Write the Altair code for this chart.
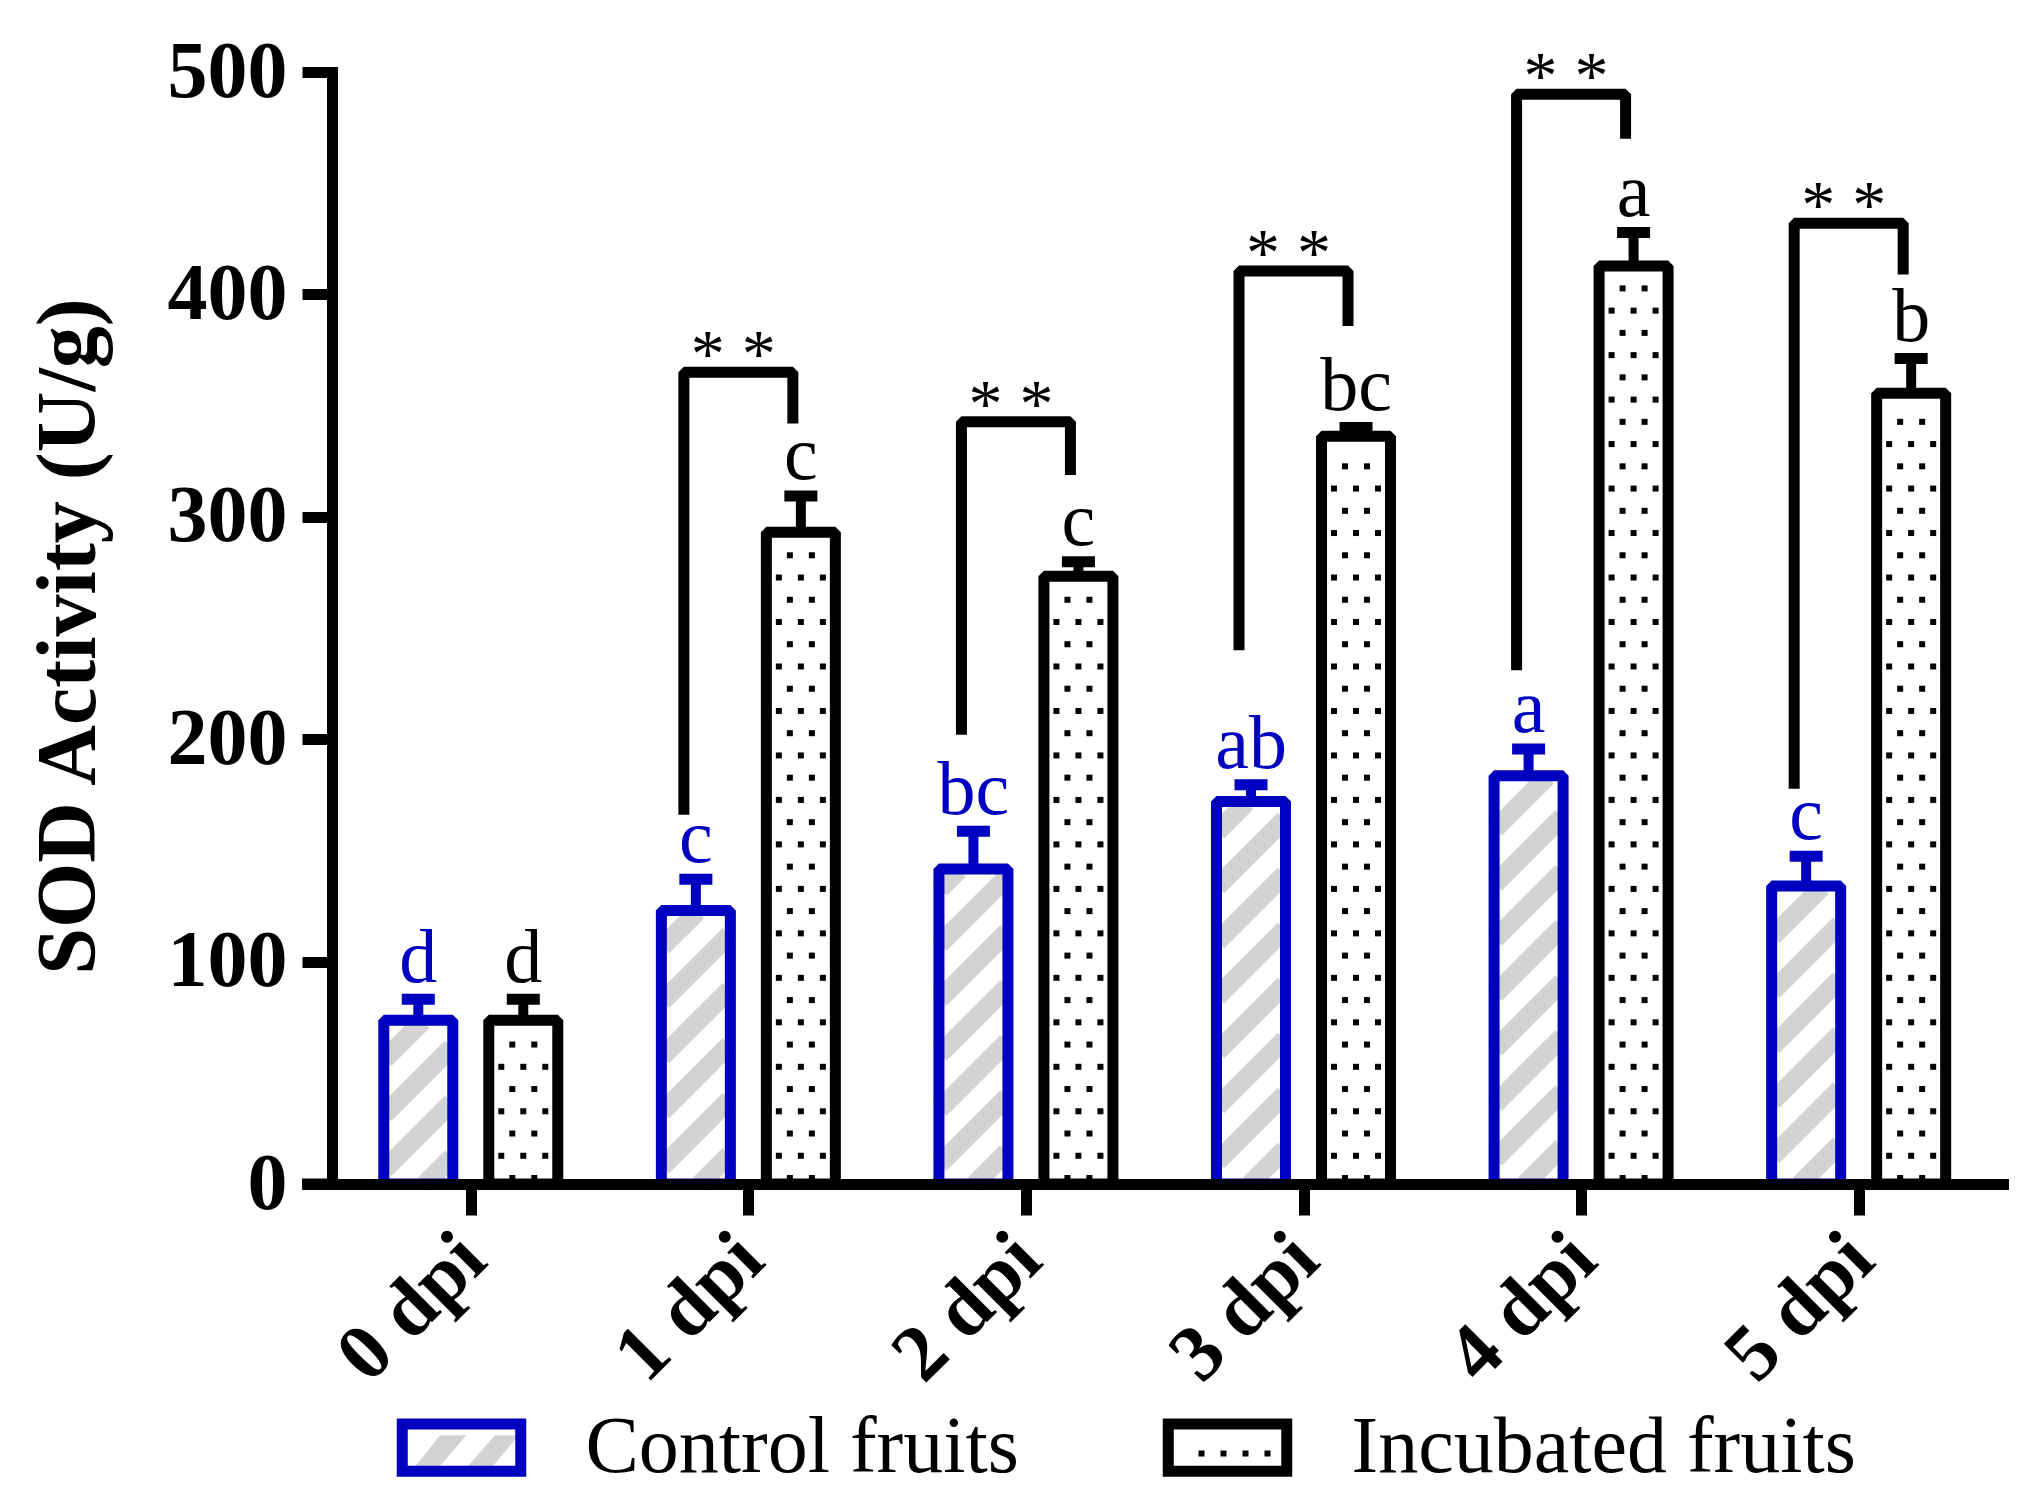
import altair as alt
import pandas as pd

# values
days = ["0 dpi", "1 dpi", "2 dpi", "3 dpi", "4 dpi", "5 dpi"]
groups = ["Control fruits", "Incubated fruits"]
control_mean = [73.6, 123.0, 141.6, 172.0, 183.6, 134.0]
control_err = [9.5, 14.0, 17.0, 7.5, 12.0, 13.4]
incub_mean = [73.6, 293.0, 273.3, 336.2, 412.8, 355.5]
incub_err = [9.5, 16.3, 6.5, 4.0, 15.0, 15.7]
control_letters = ["d", "c", "bc", "ab", "a", "c"]
incub_letters = ["d", "c", "c", "bc", "a", "b"]
# significance brackets (0 dpi has none)
sig_text = ["", "* *", "* *", "* *", "* *", "* *"]
bracket_top = [None, 365.0, 342.7, 410.5, 490.0, 432.0]
bracket_left_end = [None, 166.0, 202.0, 240.0, 231.0, 177.7]
bracket_right_end = [None, 342.0, 318.8, 385.8, 470.0, 409.0]

W, H = 1671, 1112
X_MIN, X_MAX = -0.5, 5.52
PX_X = W / (X_MAX - X_MIN)
PX_Y = H / 500
BLUE = "#0000c0"
HATCH = "#d3d3d3"
FONT = "Liberation Serif"

SHIFT = 52.5 / PX_X
HALF = 34.5 / PX_X
CAP = 16.5 / PX_X

xs = alt.Scale(domain=[X_MIN, X_MAX], nice=False, zero=False)
ys = alt.Scale(domain=[0, 500], nice=False)

rows = []
for i, d in enumerate(days):
    for g, m, e, lt, col, sgn in [
        (groups[0], control_mean[i], control_err[i], control_letters[i], BLUE, -1),
        (groups[1], incub_mean[i], incub_err[i], incub_letters[i], "black", 1),
    ]:
        pos = i + sgn * SHIFT
        rows.append(dict(day=d, group=g, col=col, pos=pos,
                         x0=pos - HALF, x1=pos + HALF, c0=pos - CAP, c1=pos + CAP,
                         mean=m, upper=m + e, zero=0, letter=lt))
bars = pd.DataFrame(rows)


def to_px(idx):
    return (idx - X_MIN) * PX_X


def to_idx(px):
    return X_MIN + px / PX_X


# diagonal hatch for control bars, dot pattern for incubated bars
stripes, dots = [], []
for i in range(len(days)):
    cx = to_px(i - SHIFT)
    xl, xr = cx - 34.5 + 1, cx + 34.5 - 1
    ut = control_mean[i] * PX_Y - 1
    k = 38 - 55 * 40
    while k < xr:
        xa, xb = max(xl, k), min(xr, ut + k)
        if xb > xa:
            stripes.append(dict(xa=to_idx(xa), xb=to_idx(xb),
                                ya=(xa - k) / PX_Y, yb=(xb - k) / PX_Y))
        k += 55
    cx = to_px(i + SHIFT)
    ut = incub_mean[i] * PX_Y
    r = 0
    while 6 + 22.24 * r <= ut - 9:
        offs = [-11, 11] if r % 2 == 0 else [-22, 0, 22]
        for o in offs:
            dots.append(dict(x=to_idx(cx + o), y=(6 + 22.24 * r) / PX_Y))
        r += 1
stripes = pd.DataFrame(stripes)
dots = pd.DataFrame(dots)

brk = []
for i, d in enumerate(days):
    if bracket_top[i] is None:
        continue
    left = i - SHIFT - 12 / PX_X
    right = i + SHIFT - 8 / PX_X
    for n, (bx, by) in enumerate([(left, bracket_left_end[i]), (left, bracket_top[i]),
                                  (right, bracket_top[i]), (right, bracket_right_end[i])]):
        brk.append(dict(day=d, step=n, bx=bx, by=by))
brk = pd.DataFrame(brk)
stars = pd.DataFrame([dict(day=d, sx=i - 15 / PX_X, sy=bracket_top[i], s=sig_text[i])
                      for i, d in enumerate(days) if bracket_top[i] is not None])

# legend symbol artwork (custom symbol paths, unit = half the box width)
SYM = 118.5
U = SYM / 2


def poly(pts):
    return "M" + "L".join(f"{x / U:.4f},{y / U:.4f}" for x, y in pts) + "Z"


box_path = poly([(-U, -0.4 * U), (U, -0.4 * U), (U, 0.4 * U), (-U, 0.4 * U)])
stripe_path = (poly([(-54, 18.3), (-30, 18.3), (1.5, -18.3), (-25, -18.3)])
               + poly([(-2, 18.3), (23, 18.3), (54, -18.3), (30, -18.3)]))
dot_path = "".join(poly([(x - 3, -3), (x + 3, -3), (x + 3, 3), (x - 3, 3)])
                   for x in (-33, -11, 11, 33))

label_expr = "[" + ",".join(f"'{d}'" for d in days) + "][datum.value]"

x_axis = alt.Axis(values=list(range(len(days))), labelExpr=label_expr, title=None,
                  grid=False, domainColor="black", domainWidth=11, domainCap="square",
                  tickColor="black", tickWidth=11, tickSize=31, labelFont=FONT,
                  labelFontWeight="bold", labelFontSize=80, labelColor="black",
                  labelAngle=-45, labelAlign="right", labelBaseline="top",
                  labelPadding=4, labelOffset=-26, zindex=1)
y_axis = alt.Axis(values=[0, 100, 200, 300, 400, 500], title="SOD Activity (U/g)",
                  grid=False, domainColor="black", domainWidth=11, domainCap="square",
                  tickColor="black", tickWidth=11, tickSize=30, labelFont=FONT,
                  labelFontWeight="bold", labelFontSize=80, labelColor="black",
                  labelPadding=15, titleFont=FONT, titleFontSize=84,
                  titleFontWeight="bold", titleColor="black", titleAngle=-90,
                  titleX=-238, titleY=564, titleAlign="center",
                  titleBaseline="alphabetic", zindex=1)

hatch = alt.Chart(stripes).mark_rule(strokeWidth=19, color=HATCH).encode(
    x=alt.X("xa:Q", scale=xs, axis=x_axis), x2="xb:Q",
    y=alt.Y("ya:Q", scale=ys, axis=y_axis), y2="yb:Q")

dotted = alt.Chart(dots).mark_square(size=36, color="black", opacity=1).encode(
    x=alt.X("x:Q", scale=xs), y=alt.Y("y:Q", scale=ys))

# fill patterns inside the two legend boxes
one = pd.DataFrame({"k": [0]})
key_stripes = alt.Chart(one).mark_point(shape=stripe_path, size=SYM * SYM, filled=True,
                                        fill=HATCH, strokeWidth=0, opacity=1).encode(
    x=alt.value(133), y=alt.value(1381.5))
key_dots = alt.Chart(one).mark_point(shape=dot_path, size=SYM * SYM, filled=True,
                                     fill="black", strokeWidth=0, opacity=1).encode(
    x=alt.value(902.5), y=alt.value(1381.5))

outline = alt.Chart(bars).mark_rect(fill="transparent", strokeWidth=11,
                                    strokeJoin="bevel").encode(
    x=alt.X("x0:Q", scale=xs), x2="x1:Q",
    y=alt.Y("mean:Q", scale=ys), y2="zero:Q",
    stroke=alt.Stroke("group:N", scale=alt.Scale(domain=groups, range=[BLUE, "black"]),
                      legend=alt.Legend(title=None, orient="none", legendX=64.5,
                                        legendY=1310.5, direction="horizontal",
                                        symbolType=box_path, symbolSize=SYM * SYM,
                                        symbolStrokeWidth=11,
                                        symbolFillColor="transparent", symbolOpacity=1,
                                        labelFont=FONT, labelFontSize=80,
                                        labelColor="black", labelLimit=1000,
                                        labelOffset=59, columnPadding=126)))

stems = alt.Chart(bars).mark_rule(strokeWidth=10).encode(
    x=alt.X("pos:Q", scale=xs), y=alt.Y("mean:Q", scale=ys), y2="upper:Q",
    stroke=alt.Stroke("col:N", scale=None))

caps = alt.Chart(bars).mark_rule(strokeWidth=11).encode(
    x=alt.X("c0:Q", scale=xs), x2="c1:Q", y=alt.Y("upper:Q", scale=ys),
    stroke=alt.Stroke("col:N", scale=None))

letters = alt.Chart(bars).mark_text(font=FONT, fontSize=76, baseline="alphabetic",
                                    dy=-17).encode(
    x=alt.X("pos:Q", scale=xs), y=alt.Y("upper:Q", scale=ys), text="letter:N",
    color=alt.Color("col:N", scale=None))

brackets = alt.Chart(brk).mark_line(strokeWidth=11, strokeJoin="bevel", color="black").encode(
    x=alt.X("bx:Q", scale=xs), y=alt.Y("by:Q", scale=ys), detail="day:N", order="step:Q")

star_text = alt.Chart(stars).mark_text(font=FONT, fontSize=68, baseline="alphabetic",
                                       dy=4, color="black").encode(
    x=alt.X("sx:Q", scale=xs), y=alt.Y("sy:Q", scale=ys), text="s:N")

axis_stub = alt.Chart(one).mark_rule(strokeWidth=11, color="black").encode(
    x=alt.value(-30), x2=alt.value(0), y=alt.value(H))

chart = alt.layer(hatch, dotted, key_stripes, key_dots, outline, stems, caps, letters,
                  brackets, star_text, axis_stub).properties(
    width=W, height=H,
    padding={"left": 324, "top": 64, "right": 10, "bottom": 312},
    autosize=alt.AutoSizeParams(type="none"),
    background="white",
).configure_view(stroke=None)

chart.save("out.html", embed_options={"renderer": "svg", "actions": False})
